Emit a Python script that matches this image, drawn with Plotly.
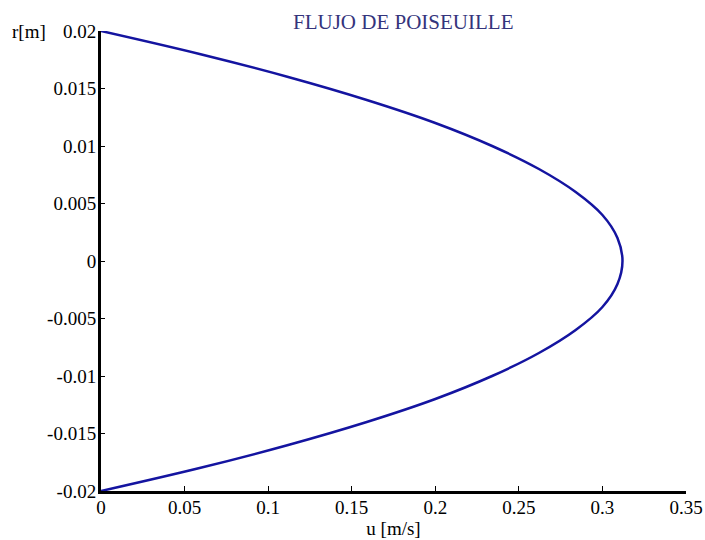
import plotly.graph_objects as go

# radial position r [m] and velocity u [m/s]
r_vals = [-0.020, -0.018, -0.016, -0.014, -0.012, -0.010, -0.008, -0.006, -0.004, -0.002,
          0.000, 0.002, 0.004, 0.006, 0.008, 0.010, 0.012, 0.014, 0.016, 0.018, 0.020]
u_vals = [0.000, 0.059, 0.112, 0.159, 0.200, 0.234, 0.262, 0.284, 0.300, 0.309,
          0.312, 0.309, 0.300, 0.284, 0.262, 0.234, 0.200, 0.159, 0.112, 0.059, 0.000]

x_ticks = [0, 0.05, 0.1, 0.15, 0.2, 0.25, 0.3, 0.35]
x_tick_text = ["0", "0.05", "0.1", "0.15", "0.2", "0.25", "0.3", "0.35"]
y_ticks = [-0.02, -0.015, -0.01, -0.005, 0, 0.005, 0.01, 0.015, 0.02]
y_tick_text = ["-0.02", "-0.015", "-0.01", "-0.005", "0", "0.005", "0.01", "0.015", "0.02"]

font_family = "Liberation Serif"

fig = go.Figure()
fig.add_trace(go.Scatter(
    x=u_vals, y=r_vals, mode="lines",
    line=dict(color="#1414a0", width=2.5, shape="spline", smoothing=1.0),
    showlegend=False, hoverinfo="skip",
))

fig.update_layout(
    width=705, height=540,
    margin=dict(l=101, r=19, t=31, b=49),
    paper_bgcolor="white", plot_bgcolor="white",
    font=dict(family=font_family, size=18, color="black"),
    title=dict(text="FLUJO DE POISEUILLE", xref="container", x=0.572,
               yref="container", y=0.959, xanchor="center", yanchor="middle",
               font=dict(family=font_family, size=21, color="#34347c")),
    showlegend=False,
)

fig.update_xaxes(
    range=[0, 0.35], tickvals=x_ticks, ticktext=x_tick_text, automargin=False,
    showgrid=False, zeroline=False, showline=True, linecolor="black", linewidth=2.5,
    ticks="inside", ticklen=5, tickcolor="black", tickwidth=1,
    ticklabelstandoff=-3,
    tickfont=dict(family=font_family, size=19),
    title=dict(text="u [m/s]", standoff=0, font=dict(family=font_family, size=19)),
)
fig.update_yaxes(
    range=[-0.02, 0.02], tickvals=y_ticks, ticktext=y_tick_text, automargin=False,
    showgrid=False, zeroline=False, showline=True, linecolor="black", linewidth=3,
    ticks="inside", ticklen=4, tickcolor="black", tickwidth=1,
    ticklabelstandoff=-2,
    tickfont=dict(family=font_family, size=19),
)

fig.add_annotation(
    text="r[m]", xref="paper", yref="paper", x=-0.09, y=1.0,
    xanchor="right", yanchor="middle", showarrow=False,
    font=dict(family=font_family, size=19, color="black"),
)

fig.write_html("out.html")
